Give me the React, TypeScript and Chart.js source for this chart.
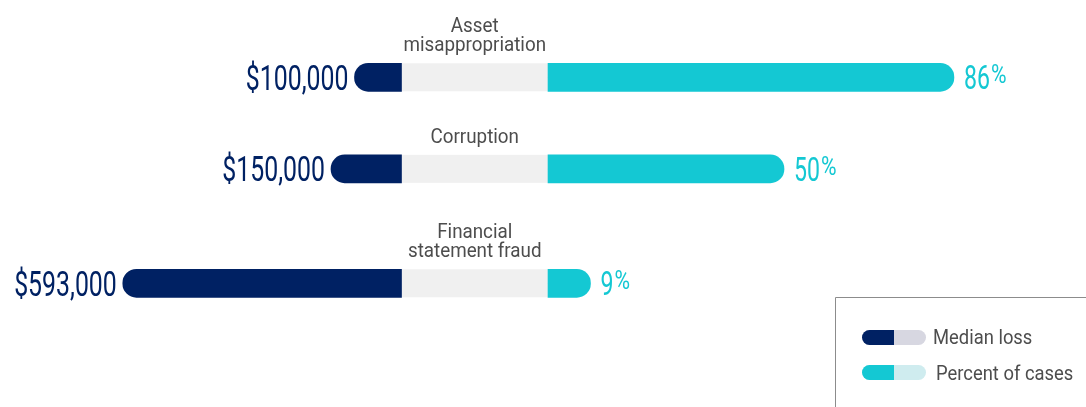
import { useEffect, useRef } from 'react';
import { Chart, registerables } from 'chart.js';

Chart.register(...registerables);

// ---- data ----
const CATEGORIES: string[][] = [['Asset', 'misappropriation'], ['Corruption'], ['Financial', 'statement fraud']];
const MEDIAN_LOSS = [100000, 150000, 593000];
const PERCENT_CASES = [86, 50, 9];
const SERIES = ['Median loss', 'Percent of cases'];

// ---- styles ----
const NAVY = '#002163';
const TEAL = '#14c8d3';
const GAP_GRAY = '#f0f0f0';
const NAVY_TAIL = '#d7d7e1';
const TEAL_TAIL = '#cfecef';
const LABEL_GRAY = '#4d4d4d';
const BOX_GRAY = '#8c8c8c';

// ---- layout ----
const W = 1086;
const H = 407;
const LOSS_ZERO_PX = 401.5;
const LOSS_PX_PER_DOLLAR = 0.00047;
const PCT_ZERO_PX = 548;
const PCT_PX_PER_UNIT = 4.72;
const ROW_UNIT_PX = 22.89;
const FIRST_ROW_PX = 77.3;
const BAR_THICK = 28;

// row positions in "line units", derived from how many label lines sit above each bar
const ROW_POS: number[] = CATEGORIES.reduce((acc: number[], lines, i) => {
  const prev = i ? acc[i - 1] : 0;
  acc.push(prev + lines.length + 3);
  return acc;
}, []);
const Y_MIN = ROW_POS[0] - FIRST_ROW_PX / ROW_UNIT_PX;
const Y_MAX = Y_MIN + H / ROW_UNIT_PX;

function drawText(
  ctx: CanvasRenderingContext2D,
  text: string,
  x: number,
  y: number,
  font: string,
  color: string,
  align: 'left' | 'right' | 'center',
  scaleX: number
): number {
  ctx.save();
  ctx.font = font;
  ctx.fillStyle = color;
  ctx.textBaseline = 'alphabetic';
  ctx.textAlign = 'left';
  const w = ctx.measureText(text).width * scaleX;
  const left = align === 'left' ? x : align === 'right' ? x - w : x - w / 2;
  ctx.translate(left, y);
  ctx.scale(scaleX, 1);
  ctx.fillText(text, 0, 0);
  ctx.restore();
  return w;
}

const decor = {
  id: 'decor',
  beforeDatasetsDraw(chart: any) {
    const { ctx } = chart;
    const x0 = chart.scales.xLoss.getPixelForValue(0);
    const x1 = chart.scales.xPct.getPixelForValue(0);
    ctx.save();
    ctx.fillStyle = GAP_GRAY;
    ROW_POS.forEach((p) => {
      const yc = chart.scales.y.getPixelForValue(p);
      ctx.fillRect(x0, yc - BAR_THICK / 2, x1 - x0, BAR_THICK);
    });
    ctx.restore();
  },
  afterDatasetsDraw(chart: any) {
    const { ctx } = chart;
    const x0 = chart.scales.xLoss.getPixelForValue(0);
    const x1 = chart.scales.xPct.getPixelForValue(0);
    const lossMeta = chart.getDatasetMeta(0);
    const pctMeta = chart.getDatasetMeta(1);

    CATEGORIES.forEach((lines, i) => {
      const le = lossMeta.data[i];
      const pe = pctMeta.data[i];
      const yc = le.y;
      // loss value label
      drawText(ctx, '$' + MEDIAN_LOSS[i].toLocaleString('en-US'), le.x - 6, yc + 12.5, '35px Roboto', NAVY, 'right', 0.71);
      // percent label
      const w = drawText(ctx, String(PERCENT_CASES[i]), pe.x + 10, yc + 12, '34px Roboto', TEAL, 'left', 0.68);
      drawText(ctx, '%', pe.x + 10 + w + 1, yc + 6, '25px Roboto', TEAL, 'left', 0.85);
      // category label, centred over the gap
      const cx = (x0 + x1) / 2;
      const lastBase = yc - BAR_THICK / 2 - 12;
      lines.forEach((line, k) => {
        const by = lastBase - (lines.length - 1 - k) * 19;
        drawText(ctx, line, cx, by, '20px Roboto', LABEL_GRAY, 'center', 0.94);
      });
    });

    // legend box
    ctx.save();
    ctx.strokeStyle = BOX_GRAY;
    ctx.lineWidth = 1;
    ctx.beginPath();
    ctx.moveTo(835.5, H);
    ctx.lineTo(835.5, 297.5);
    ctx.lineTo(W, 297.5);
    ctx.stroke();
    ctx.restore();

    const items = [
      { head: NAVY, tail: NAVY_TAIL, yc: 337.5, tx: 933, tb: 343.5 },
      { head: TEAL, tail: TEAL_TAIL, yc: 372.5, tx: 936, tb: 380 },
    ];
    items.forEach((it, k) => {
      ctx.save();
      ctx.fillStyle = it.tail;
      ctx.beginPath();
      ctx.roundRect(862, it.yc - 7.5, 64, 15, 7.5);
      ctx.fill();
      ctx.fillStyle = it.head;
      ctx.beginPath();
      ctx.roundRect(862, it.yc - 7.5, 32, 15, [7.5, 0, 0, 7.5]);
      ctx.fill();
      ctx.restore();
      drawText(ctx, chart.data.datasets[k].label, it.tx, it.tb, '20px Roboto', LABEL_GRAY, 'left', 0.92);
    });
  },
};

export default function App() {
  const ref = useRef<HTMLCanvasElement | null>(null);
  useEffect(() => {
    if (!ref.current) return;
    const chart = new Chart(ref.current, {
      type: 'bar',
      data: {
        datasets: [
          {
            label: SERIES[0],
            data: MEDIAN_LOSS.map((v, i) => ({ x: v, y: ROW_POS[i] })) as any,
            xAxisID: 'xLoss',
            yAxisID: 'y',
            backgroundColor: NAVY,
            barThickness: BAR_THICK,
            borderRadius: BAR_THICK / 2,
            borderSkipped: 'start',
            grouped: false,
          },
          {
            label: SERIES[1],
            data: PERCENT_CASES.map((v, i) => ({ x: v, y: ROW_POS[i] })) as any,
            xAxisID: 'xPct',
            yAxisID: 'y',
            backgroundColor: TEAL,
            barThickness: BAR_THICK,
            borderRadius: BAR_THICK / 2,
            borderSkipped: 'start',
            grouped: false,
          },
        ],
      },
      options: {
        indexAxis: 'y',
        responsive: false,
        animation: false,
        devicePixelRatio: 1,
        layout: { padding: 0 },
        plugins: { legend: { display: false }, tooltip: { enabled: false } },
        scales: {
          xLoss: {
            type: 'linear',
            display: false,
            reverse: true,
            bounds: 'data',
            offset: false,
            min: -(W - LOSS_ZERO_PX) / LOSS_PX_PER_DOLLAR,
            max: LOSS_ZERO_PX / LOSS_PX_PER_DOLLAR,
          },
          xPct: {
            type: 'linear',
            display: false,
            bounds: 'data',
            offset: false,
            min: -PCT_ZERO_PX / PCT_PX_PER_UNIT,
            max: (W - PCT_ZERO_PX) / PCT_PX_PER_UNIT,
          },
          y: {
            type: 'linear',
            display: false,
            reverse: true,
            bounds: 'data',
            offset: false,
            grid: { offset: false },
            min: Y_MIN,
            max: Y_MAX,
          },
        },
      } as any,
      plugins: [decor],
    });
    return () => chart.destroy();
  }, []);

  return (
    <div style={{ position: 'absolute', left: 0, top: 0, width: W, height: H, background: '#fff' }}>
      <canvas ref={ref} width={W} height={H} style={{ display: 'block' }} />
    </div>
  );
}
